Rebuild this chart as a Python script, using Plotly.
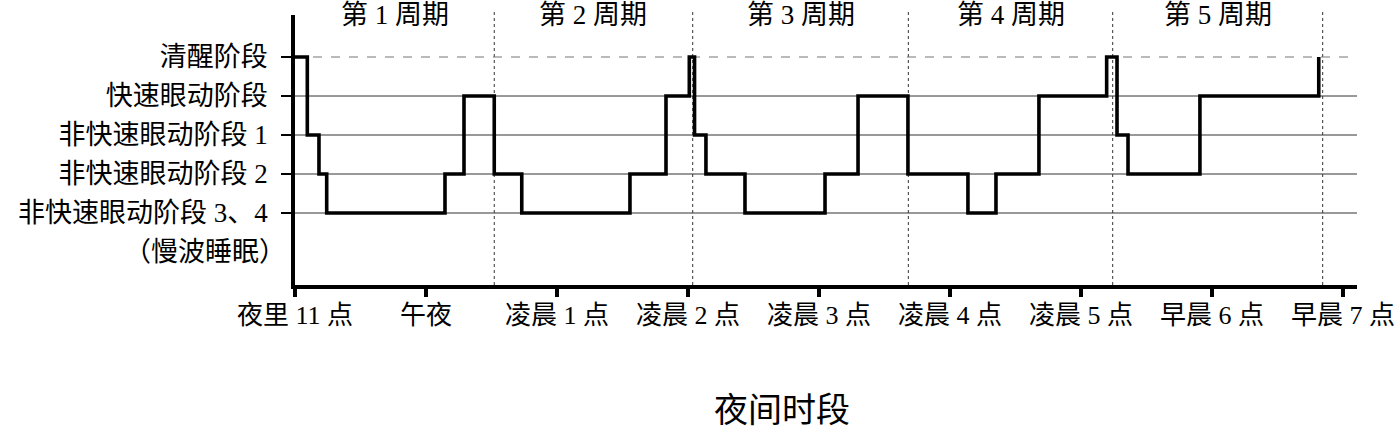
import plotly.graph_objects as go

# ---- data ----
# hours after 11 pm (0 = 夜里11点)
stage_times = [0, 0.094, 0.183, 0.242, 1.145, 1.290, 1.521, 1.731, 2.557, 2.832,
               3.010, 3.050, 3.137, 3.435, 4.046, 4.298, 4.679, 5.137, 5.351, 5.679,
               6.196, 6.275, 6.359, 6.908, 7.815]
# 5 = 清醒, 4 = 快速眼动, 3 = NREM1, 2 = NREM2, 1 = NREM3/4
stage_levels = [5, 3, 2, 1, 2, 4, 2, 1, 2, 4,
                5, 3, 2, 1, 2, 4, 2, 1, 2, 4,
                5, 3, 2, 4, 5]

stage_values = [5, 4, 3, 2, 1]
stage_labels = ["清醒阶段", "快速眼动阶段", "非快速眼动阶段 1", "非快速眼动阶段 2", "非快速眼动阶段 3、4"]
slow_wave_label = "（慢波睡眠）"

hour_ticks = [0, 1, 2, 3, 4, 5, 6, 7, 8]
hour_labels = ["夜里 11 点", "午夜", "凌晨 1 点", "凌晨 2 点", "凌晨 3 点",
               "凌晨 4 点", "凌晨 5 点", "早晨 6 点", "早晨 7 点"]

cycle_bounds = [0, 1.521, 3.036, 4.682, 6.242, 7.845]
cycle_labels = ["第 1 周期", "第 2 周期", "第 3 周期", "第 4 周期", "第 5 周期"]

x_title = "夜间时段"

FONT = "Liberation Serif, Noto Sans CJK SC, sans-serif"
X_MAX = 8.107
Y_MIN, Y_MAX = -0.846, 6.077

fig = go.Figure()

fig.add_trace(go.Scatter(
    x=stage_times, y=stage_levels, mode="lines",
    line=dict(color="black", width=3.6, shape="hv"),
    hoverinfo="skip", showlegend=False,
))

shapes = []
# horizontal reference lines
for v in stage_values:
    if v == 5:
        shapes.append(dict(type="line", xref="x", yref="y", x0=0, x1=X_MAX, y0=v, y1=v,
                           line=dict(color="#777", width=1.2, dash="dash"), layer="below"))
    else:
        shapes.append(dict(type="line", xref="x", yref="y", x0=0, x1=X_MAX, y0=v, y1=v,
                           line=dict(color="#333", width=1), layer="below"))
# cycle boundaries
for b in cycle_bounds[1:]:
    shapes.append(dict(type="line", xref="x", yref="paper", x0=b, x1=b, y0=0, y1=1.022,
                       line=dict(color="#333", width=1, dash="dot"), layer="below"))

annotations = []
for i, lab in enumerate(cycle_labels):
    mid = (cycle_bounds[i] + cycle_bounds[i + 1]) / 2
    annotations.append(dict(x=mid, y=1.0, xref="x", yref="paper", text=lab,
                            showarrow=False, yanchor="middle", xanchor="center",
                            font=dict(family=FONT, size=27, color="black")))
annotations.append(dict(x=0, y=0, xref="paper", yref="y", text=slow_wave_label,
                        showarrow=False, xanchor="right", yanchor="middle", xshift=-7,
                        font=dict(family=FONT, size=27, color="black")))
annotations.append(dict(x=0.459, y=-0.463, xref="paper", yref="paper", text=x_title,
                        showarrow=False, xanchor="center", yanchor="middle",
                        font=dict(family=FONT, size=34, color="black")))

fig.update_layout(
    width=1399, height=429, autosize=False,
    margin=dict(l=295, r=42, t=15, b=144, pad=0, autoexpand=False),
    paper_bgcolor="white", plot_bgcolor="white",
    shapes=shapes, annotations=annotations,
    showlegend=False,
    font=dict(family=FONT, color="black"),
)
fig.update_xaxes(
    range=[0, X_MAX], tickmode="array", tickvals=hour_ticks, ticktext=hour_labels,
    ticks="outside", ticklen=8, tickwidth=4, tickcolor="black",
    showline=True, linewidth=3.5, linecolor="black", automargin=False,
    showgrid=False, zeroline=False, ticklabelstandoff=-4,
    tickfont=dict(family=FONT, size=26, color="black"),
)
fig.update_yaxes(
    range=[Y_MIN, Y_MAX], tickmode="array", tickvals=stage_values, ticktext=stage_labels,
    ticks="outside", ticklen=10, tickwidth=1.5, tickcolor="black",
    showline=True, linewidth=3.5, linecolor="black", automargin=False,
    showgrid=False, zeroline=False, ticklabelstandoff=8,
    tickfont=dict(family=FONT, size=27, color="black"),
)

fig.write_html(
    "out.html",
    config={"displayModeBar": False, "responsive": False},
    post_script="document.body.style.margin='0';document.body.style.padding='0';"
                "document.body.style.overflow='hidden';"
                "document.documentElement.style.overflow='hidden';",
)
